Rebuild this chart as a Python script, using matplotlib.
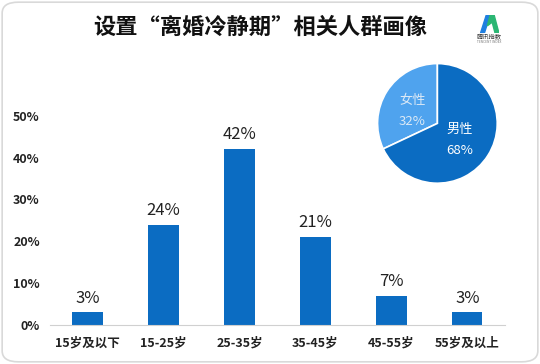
import matplotlib
matplotlib.use("Agg")
import matplotlib.pyplot as plt
from matplotlib.patches import FancyBboxPatch, Polygon

plt.rcParams['font.family'] = ['Noto Sans CJK SC', 'DejaVu Sans']

categories = ["15岁及以下", "15-25岁", "25-35岁", "35-45岁", "45-55岁", "55岁及以上"]
values = [3, 24, 42, 21, 7, 3]
yticks = [0, 10, 20, 30, 40, 50]
pie_labels = ["女性", "男性"]
pie_values = [32, 68]

BLUE = "#0b6cc2"
LIGHT = "#4fa3ee"

fig = plt.figure(figsize=(5.4, 3.64), dpi=100)
fig.patch.set_facecolor("white")
border = FancyBboxPatch((0.004, 0.006), 0.992, 0.988, boxstyle="round,pad=0,rounding_size=0.03",
                        transform=fig.transFigure, facecolor="white", edgecolor="#d9d9d9", lw=1.2,
                        zorder=-10)
fig.patches.append(border)

fig.text(0.482, 0.926, "设置“离婚冷静期”相关人群画像", ha="center", va="center",
         fontsize=16, fontweight="bold", color="#111111")

ax = fig.add_axes([0.0917, 0.107, 0.844, 0.575])
ax.patch.set_alpha(0)
x = range(len(categories))
bars = ax.bar(x, values, width=0.4, color=BLUE, zorder=2)
for xi, v in zip(x, values):
    ax.text(xi, v + 1.4, f"{v}%", ha="center", va="bottom", fontsize=12, color="#222222")
ax.set_ylim(0, 50)
ax.set_xlim(-0.5, len(categories) - 0.5)
ax.set_yticks(yticks)
ax.set_yticklabels([f"{t}%" for t in yticks], fontsize=9, fontweight="bold", color="#222222")
ax.set_xticks(list(x))
ax.set_xticklabels(categories, fontsize=9, fontweight="bold", color="#222222")
for s in ["top", "right", "left"]:
    ax.spines[s].set_visible(False)
ax.spines["bottom"].set_color("#d0d0d0")
ax.tick_params(axis="both", length=0)
ax.tick_params(axis="x", pad=8)
ax.tick_params(axis="y", pad=7)

pax = fig.add_axes([0.698, 0.495, 0.224, 0.332])
wedges, _ = pax.pie(pie_values, colors=[LIGHT, BLUE], startangle=90, counterclock=True,
                    wedgeprops=dict(edgecolor="white", linewidth=1.2))
pax.set_xlim(-1.01, 1.01)
pax.set_ylim(-1.01, 1.01)
pax.text(-0.42, 0.2, f"{pie_labels[0]}\n{pie_values[0]}%", ha="center", va="center",
         fontsize=9.5, color="#dbe9f6", linespacing=1.8)
pax.text(0.38, -0.27, f"{pie_labels[1]}\n{pie_values[1]}%", ha="center", va="center",
         fontsize=9.5, color="white", linespacing=1.8)

# logo
lax = fig.add_axes([0.888, 0.909, 0.036, 0.05])
lax.set_xlim(0, 10); lax.set_ylim(0, 10); lax.axis("off")
lax.add_patch(Polygon([[0.5, 0], [3.5, 10], [5.5, 10], [2.5, 0]], color="#1f7fe0"))
lax.add_patch(Polygon([[4, 4], [5.5, 10], [7.5, 10], [10, 0], [8, 0], [6.5, 6]], color="#2bb673"))
fig.text(0.906, 0.897, "腾讯指数", ha="center", va="center", fontsize=4.5, color="#333333")
fig.text(0.906, 0.884, "TENCENT INDEX", ha="center", va="center", fontsize=2.3, color="#777777")

fig.savefig("out.png", dpi=100, facecolor="white")
